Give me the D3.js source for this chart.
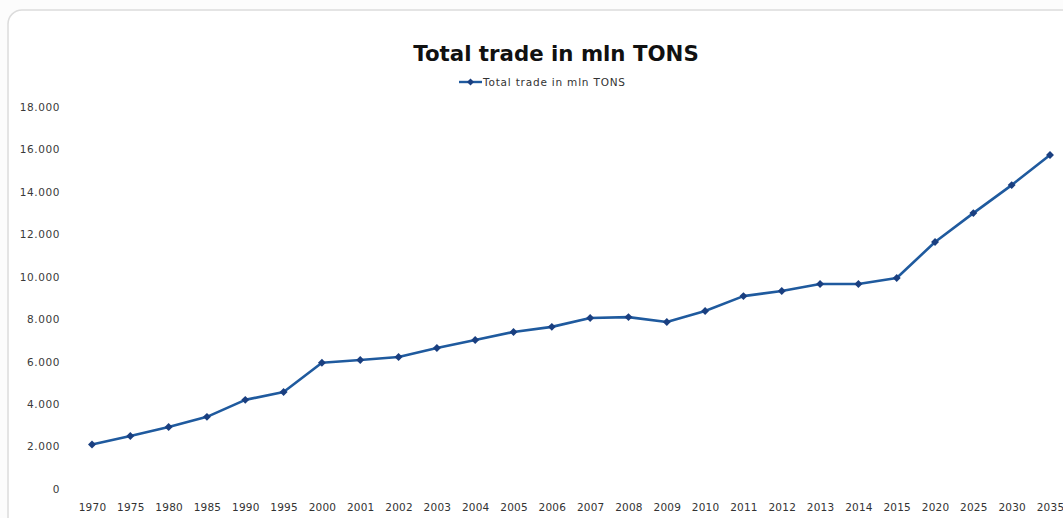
<!DOCTYPE html>
<html>
<head>
<meta charset="utf-8">
<script src="https://cdn.jsdelivr.net/npm/d3@7"></script>
<style>
  body { margin: 0; background: #fcfcfc; }
  svg { display: block; }
  text { font-family: "DejaVu Sans", sans-serif; }
</style>
</head>
<body>
<div id="chart"></div>
<script>
// data
const years = ["1970","1975","1980","1985","1990","1995","2000","2001","2002","2003","2004","2005","2006",
               "2007","2008","2009","2010","2011","2012","2013","2014","2015","2020","2025","2030","2035"];
const trade = [2100, 2500, 2920, 3400, 4200, 4570, 5950, 6080, 6220, 6640, 7020, 7400, 7640,
               8060, 8100, 7870, 8390, 9090, 9330, 9660, 9660, 9940, 11640, 13000, 14320, 15740];
const yTicks = [0, 2000, 4000, 6000, 8000, 10000, 12000, 14000, 16000, 18000];
const seriesName = "Total trade in mln TONS";

const W = 1063, H = 518;

const svg = d3.select("#chart").append("svg")
  .attr("width", W)
  .attr("height", H);

// faint chart frame
svg.append("rect")
  .attr("x", 8).attr("y", 10)
  .attr("width", W + 20).attr("height", H + 20)
  .attr("rx", 14)
  .attr("fill", "#ffffff")
  .attr("stroke", "#dcdcdc")
  .attr("stroke-width", 1.5);

const xScale = d3.scalePoint()
  .domain(years)
  .range([92, 1050]);

const yScale = d3.scaleLinear()
  .domain([0, 18000])
  .range([489, 107]);

// y axis labels (no line, no ticks)
const fmt = v => v === 0 ? "0" : d3.format(",")(v).replace(",", ".");
const yAxis = svg.append("g")
  .attr("transform", "translate(63,0)")
  .call(d3.axisLeft(yScale).tickValues(yTicks).tickSize(0).tickFormat(fmt));
yAxis.select(".domain").remove();
yAxis.selectAll("text")
  .attr("font-size", 10.5)
  .attr("letter-spacing", 0.6)
  .attr("fill", "#3a3a3a")
  .attr("font-family", "'DejaVu Sans', sans-serif");

// x axis labels
const xAxis = svg.append("g")
  .attr("transform", "translate(0,501)")
  .call(d3.axisBottom(xScale).tickSize(0));
xAxis.select(".domain").remove();
xAxis.selectAll("text")
  .attr("font-size", 10.5)
  .attr("letter-spacing", 0.2)
  .attr("fill", "#333")
  .attr("dy", "0.71em")
  .attr("font-family", "'DejaVu Sans', sans-serif");

// line
const line = d3.line()
  .x((d, i) => xScale(years[i]))
  .y(d => yScale(d));

svg.append("path")
  .datum(trade)
  .attr("fill", "none")
  .attr("stroke", "#1f5a9e")
  .attr("stroke-width", 2.6)
  .attr("stroke-linejoin", "round")
  .attr("d", line);

// diamond markers
const diamond = d3.symbol().type(d3.symbolDiamond2).size(40);
svg.selectAll(".pt")
  .data(trade)
  .enter()
  .append("path")
    .attr("class", "pt")
    .attr("d", diamond)
    .attr("transform", (d, i) => "translate(" + xScale(years[i]) + "," + yScale(d) + ")")
    .attr("fill", "#1a3f80");

// title
svg.append("text")
  .attr("x", 556).attr("y", 61)
  .attr("text-anchor", "middle")
  .attr("font-size", 21.3)
  .attr("font-weight", "bold")
  .attr("fill", "#111")
  .text(seriesName);

// legend
const lg = svg.append("g").attr("transform", "translate(459,82)");
lg.append("line")
  .attr("x1", 0).attr("x2", 23).attr("y1", 0).attr("y2", 0)
  .attr("stroke", "#1f5a9e").attr("stroke-width", 2.4);
lg.append("path")
  .attr("d", d3.symbol().type(d3.symbolDiamond2).size(32))
  .attr("transform", "translate(11.5,0)")
  .attr("fill", "#1a3f80");
lg.append("text")
  .attr("x", 24).attr("y", 3.5)
  .attr("font-size", 10.5)
  .attr("letter-spacing", 0.8)
  .attr("fill", "#333")
  .text(seriesName);
</script>
</body>
</html>
